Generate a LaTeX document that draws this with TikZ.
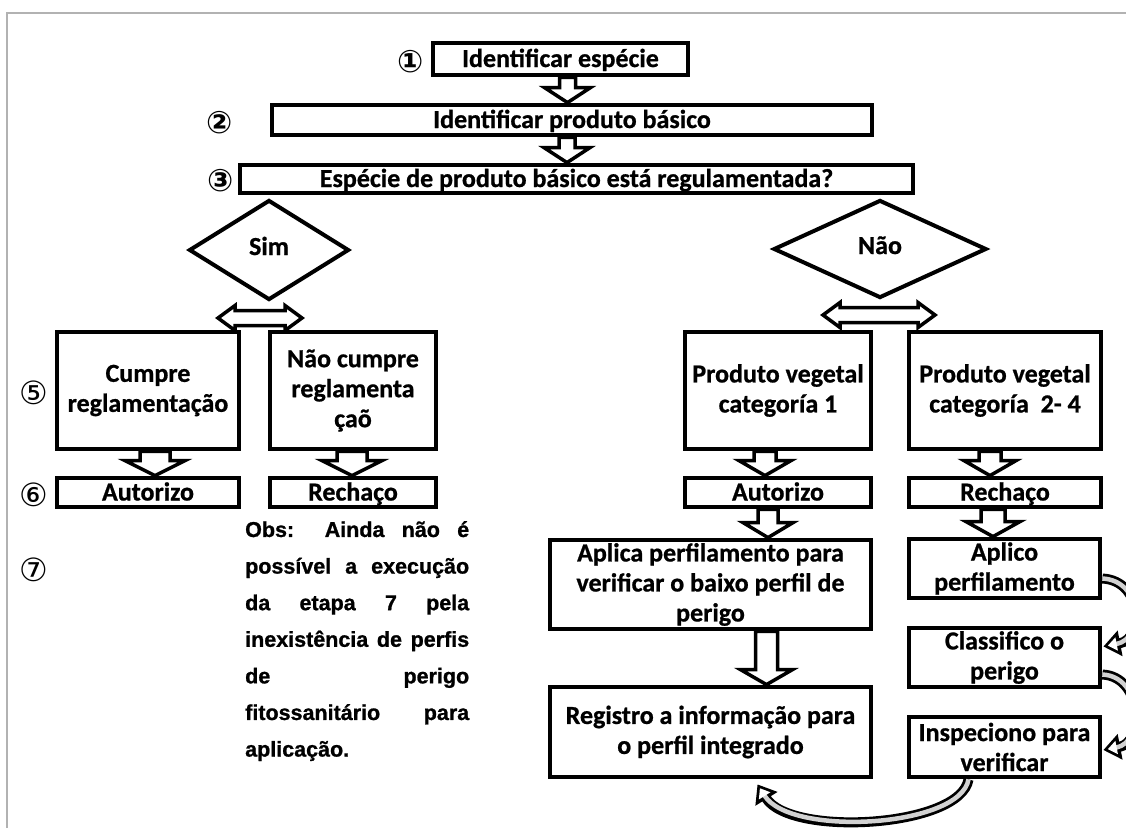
\documentclass[tikz,border=0pt]{standalone}
\usepackage{fontspec}
\setmainfont{Carlito}[BoldFeatures={FakeBold=0.8}]
\newfontfamily\obsfont{Liberation Sans Bold}[FakeBold=1]
\newfontfamily\numfont{DejaVu Sans}
\newfontfamily\numfontb{DejaVu Sans Bold}
\usetikzlibrary{shapes.geometric,calc,arrows.meta,backgrounds}

\tikzset{
  caixa/.style={draw, line width=4.8pt, align=center, inner sep=0pt, font=\bfseries\fontsize{26}{30}\selectfont},
  linha/.style={text height=18pt, text depth=2pt},
  losango/.style={draw, diamond, line width=4pt, inner sep=0pt, text height=14pt, text depth=4pt, font=\bfseries\fontsize{26}{30}\selectfont},
  seta/.style={draw, line width=3.5pt, fill=white, line join=miter},
  curvafora/.style={line width=10pt, -{Triangle[length=17pt,width=25pt]}},
  curvadentro/.style={line width=4.5pt, gray!35, shorten >=4.5pt, -{Triangle[length=9pt,width=13pt,color=white,fill=white]}},
  numero/.style={inner sep=0pt, font=\numfont\fontsize{32}{32}\selectfont},
  numerob/.style={inner sep=0pt, font=\numfontb\fontsize{31}{31}\selectfont},
  obs/.style={text width=224pt, align=justify, inner sep=0pt, font=\obsfont\fontsize{21.5}{36.6}\selectfont}
}

% seta larga para baixo: de, para, desloc. x, meia haste
\newcommand{\setabaixo}[4]{%
  \coordinate (sa) at ($(#1.south)+(#3,0)$);
  \coordinate (sb) at (sa |- #2.north);
  \draw[seta] ($(sa)+(-#4,0)$) -- ($(sb)+(-#4,-15)$) -- ($(sb)+({-#4-15},-15)$) -- (sb)
    -- ($(sb)+({#4+15},-15)$) -- ($(sb)+(#4,-15)$) -- ($(sa)+(#4,0)$) -- cycle;
}
% seta dupla: losango, desloc. x, desloc. y, meio comprimento
\newcommand{\setadupla}[4]{%
  \coordinate (dl) at ($(#1.south)+({#2-#4},#3)$);
  \coordinate (dr) at ($(#1.south)+({#2+#4},#3)$);
  \draw[seta] (dl) -- ++(17,-12.5) -- ++(0,5) -- ($(dr)+(-17,-7.5)$) -- ++(0,-5) -- (dr)
    -- ++(-17,12.5) -- ++(0,-5) -- ($(dl)+(17,7.5)$) -- ++(0,5) -- cycle;
}

\begin{document}
\begin{tikzpicture}[x=1pt,y=-1pt]
\useasboundingbox (0,0) rectangle (1126,828);
\clip (0,0) rectangle (1126,828);
\draw[gray!60, line width=2.5pt] (7,828) -- (7,13) -- (1126,13);
%
\node[caixa, linha, minimum width=255pt, minimum height=32pt] (esp) at (560.5,59) {Identificar espécie};
\node[caixa, linha, minimum width=600pt, minimum height=30pt] (prod) at (572,120) {Identificar produto básico};
\node[caixa, linha, minimum width=673pt, minimum height=28pt] (reg) at (576.5,179) {Espécie de produto básico está regulamentada?};
\node[numerob] (n1) at (411,62) {①};
\node[numerob] (n2) at (220,123) {②};
\node[numerob] (n3) at (221,181) {③};
%
\node[losango, minimum width=160pt, minimum height=100pt] (sim) at (269,250) {Sim};
\node[losango, minimum width=213pt, minimum height=98pt] (nao) at (880,249) {Não};
%
\node[caixa, minimum width=182pt, minimum height=117pt] (cumpre) at (148,390.5) {Cumpre\\reglamentação};
\node[caixa, minimum width=166pt, minimum height=117pt] (naocumpre) at (353,390.5) {Não cumpre\\reglamenta\\çaõ};
\node[caixa, minimum width=186pt, minimum height=117pt] (cat1) at (778,390.5) {Produto vegetal\\categoría 1};
\node[caixa, minimum width=192pt, minimum height=117pt] (cat24) at (1005,390.5) {Produto vegetal\\categoría \ 2- 4};
\node[numero] (n5) at (34,393) {⑤};
%
\node[caixa, linha, minimum width=182pt, minimum height=29pt] (aut1) at (148,492.5) {Autorizo};
\node[caixa, linha, minimum width=166pt, minimum height=29pt] (rech1) at (353,492.5) {Rechaço};
\node[caixa, linha, minimum width=186pt, minimum height=29pt] (aut2) at (778,492.5) {Autorizo};
\node[caixa, linha, minimum width=192pt, minimum height=29pt] (rech2) at (1005,492.5) {Rechaço};
\node[numero] (n6) at (34,495) {⑥};
\node[numero] (n7) at (34,570) {⑦};
%
\node[obs, anchor=north west] (nota) at (245,521) {Obs: Ainda não é\linebreak possível a execução\linebreak da etapa 7 pela\linebreak inexistência de perfis\linebreak de perigo\linebreak fitossanitário para\linebreak aplicação.};
%
\node[caixa, minimum width=321pt, minimum height=89pt] (aplica) at (710.5,584.5) {Aplica perfilamento para\\verificar o baixo perfil de\\perigo};
\node[caixa, minimum width=321pt, minimum height=90pt] (registro) at (710.5,732) {Registro a informação para\\o perfil integrado};
\node[caixa, minimum width=191pt, minimum height=59pt] (aplico) at (1004.5,568.5) {Aplico\\perfilamento};
\node[caixa, minimum width=191pt, minimum height=59pt] (classif) at (1004.5,657.5) {Classifico o\\perigo};
\node[caixa, minimum width=191pt, minimum height=60pt] (insp) at (1004.5,747) {Inspeciono para\\verificar};
%
\begin{pgfonlayer}{background}
\setabaixo{esp}{prod}{7}{8}
\setabaixo{prod}{reg}{-5}{8}
\setabaixo{cumpre}{aut1}{7}{15}
\setabaixo{naocumpre}{rech1}{-1}{15}
\setabaixo{cat1}{aut2}{-13}{11}
\setabaixo{cat24}{rech2}{-15}{11}
\setabaixo{aut2}{aplica}{-10}{10}
\setabaixo{rech2}{aplico}{-12}{12}
\setabaixo{aplica}{registro}{56}{11}
\setadupla{sim}{-9}{16}{42}
\setadupla{nao}{-1}{15}{56}
\end{pgfonlayer}
%
\coordinate (c1a) at ($(aplico.east)+(0,10)$);
\coordinate (c1b) at ($(classif.east)+(1,-11)$);
\coordinate (c2a) at ($(classif.east)+(0,17)$);
\coordinate (c2b) at ($(insp.east)+(1,3)$);
\coordinate (c3a) at ($(insp.south)+(-36,0)$);
\coordinate (c3b) at ($(registro.south)+(47,5)$);
\draw[curvafora] (c1a) .. controls +(40,2) and +(42,-8) .. (c1b);
\draw[curvadentro] (c1a) .. controls +(40,2) and +(42,-8) .. (c1b);
\draw[curvafora] (c2a) .. controls +(40,2) and +(42,-8) .. (c2b);
\draw[curvadentro] (c2a) .. controls +(40,2) and +(42,-8) .. (c2b);
\draw[curvafora] (c3a) .. controls +(-8,48) and +(33,53) .. (c3b);
\draw[curvadentro] (c3a) .. controls +(-8,48) and +(33,53) .. (c3b);
\end{tikzpicture}
\end{document}
